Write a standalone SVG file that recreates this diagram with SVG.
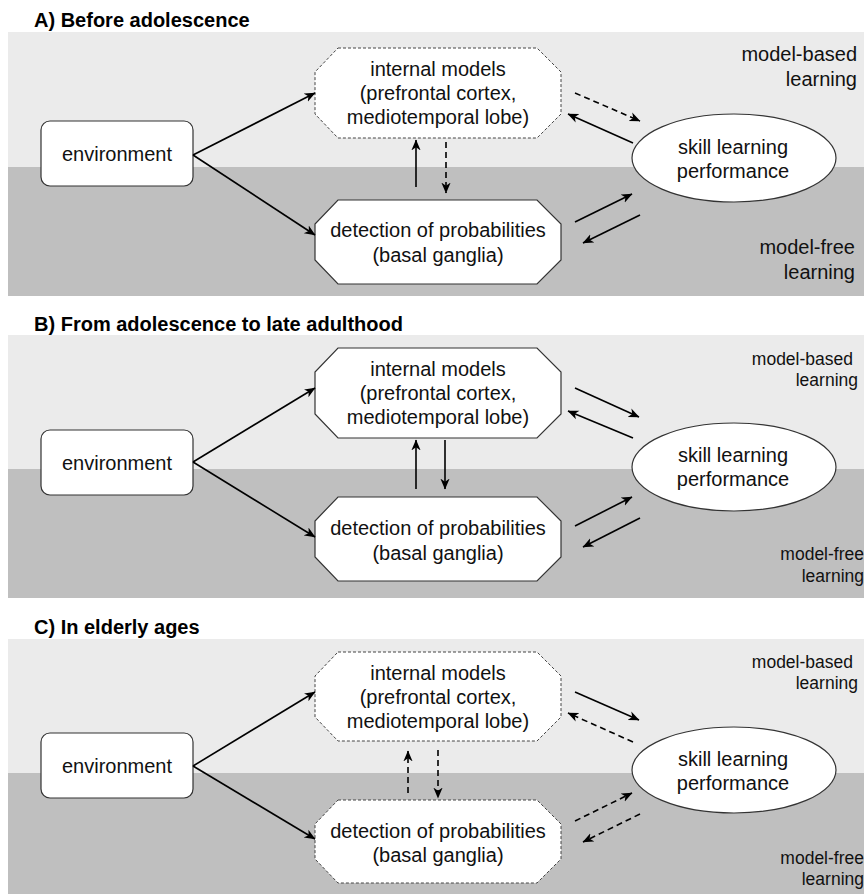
<svg xmlns="http://www.w3.org/2000/svg" width="866" height="894" viewBox="0 0 866 894">
<defs>
<marker id="ah" viewBox="0 0 10 10" refX="9.5" refY="5" markerWidth="11" markerHeight="11" markerUnits="userSpaceOnUse" orient="auto">
<path d="M0,0.8 L10,5 L0,9.2 L2.8,5 z" fill="#000"/>
</marker>
<style>
.light{fill:#ebebeb}
.dark{fill:#bfbfbf}
.title{font-family:"Liberation Sans",Arial,sans-serif;font-size:20px;font-weight:bold;fill:#000}
.t{font-family:"Liberation Sans",Arial,sans-serif;font-size:20px;fill:#111;text-anchor:middle}
.lblA{font-family:"Liberation Sans",Arial,sans-serif;font-size:20px;fill:#111;text-anchor:end}
.lbl{font-family:"Liberation Sans",Arial,sans-serif;font-size:17.5px;fill:#111;text-anchor:end}
.box{fill:#fff;stroke:#333;stroke-width:1.2}
.dbox{fill:#fff;stroke:#444;stroke-width:1;stroke-dasharray:3 2}
.c{stroke:#000;stroke-width:1.6;fill:none;marker-end:url(#ah)}
.cd{stroke:#000;stroke-width:1.6;fill:none;stroke-dasharray:6 4;marker-end:url(#ah)}
</style>
</defs>

<!-- Panel A -->
<g id="panelA">
<text class="title" x="34" y="27">A) Before adolescence</text>
<rect class="light" x="8" y="32" width="856" height="135"/>
<rect class="dark" x="8" y="167" width="856" height="129"/>
<text class="lblA" x="857" y="61">model-based</text>
<text class="lblA" x="857" y="86">learning</text>
<text class="lblA" x="855" y="254">model-free</text>
<text class="lblA" x="855" y="279">learning</text>
</g>
<g id="A-environment">
<rect class="box" x="41" y="121" width="152" height="65" rx="9"/>
<text class="t" x="117" y="161">environment</text>
</g>
<g id="A-internal-models">
<polygon class="dbox" points="338,48 537,48 561,72 561,114 537,138 338,138 315,114 315,72"/>
<text class="t" x="438" y="76">internal models</text>
<text class="t" x="438" y="100">(prefrontal cortex,</text>
<text class="t" x="438" y="124">mediotemporal lobe)</text>
</g>
<g id="A-detection">
<polygon class="box" points="338,200 537,200 561,224 561,260 537,284 338,284 315,260 315,224"/>
<text class="t" x="438" y="237">detection of probabilities</text>
<text class="t" x="438" y="262">(basal ganglia)</text>
</g>
<g id="A-skill">
<ellipse class="box" cx="734" cy="158" rx="102" ry="44"/>
<text class="t" x="733" y="154">skill learning</text>
<text class="t" x="733" y="178">performance</text>
</g>

<!-- Panel B -->
<g id="panelB">
<text class="title" x="34" y="331">B) From adolescence to late adulthood</text>
<rect class="light" x="8" y="335" width="856" height="134"/>
<rect class="dark" x="8" y="469" width="856" height="129"/>
<text class="lbl" x="853" y="365">model-based</text>
<text class="lbl" x="858" y="386">learning</text>
<text class="lbl" x="864" y="560">model-free</text>
<text class="lbl" x="864" y="582">learning</text>
</g>
<g id="B-environment">
<rect class="box" x="41" y="430" width="152" height="65" rx="9"/>
<text class="t" x="117" y="470">environment</text>
</g>
<g id="B-internal-models">
<polygon class="box" points="338,348 537,348 561,372 561,414 537,438 338,438 315,414 315,372"/>
<text class="t" x="438" y="376">internal models</text>
<text class="t" x="438" y="400">(prefrontal cortex,</text>
<text class="t" x="438" y="424">mediotemporal lobe)</text>
</g>
<g id="B-detection">
<polygon class="box" points="338,497 537,497 561,521 561,557 537,581 338,581 315,557 315,521"/>
<text class="t" x="438" y="535">detection of probabilities</text>
<text class="t" x="438" y="560">(basal ganglia)</text>
</g>
<g id="B-skill">
<ellipse class="box" cx="734" cy="467" rx="102" ry="44"/>
<text class="t" x="733" y="462">skill learning</text>
<text class="t" x="733" y="486">performance</text>
</g>

<!-- Panel C -->
<g id="panelC">
<text class="title" x="34" y="634">C) In elderly ages</text>
<rect class="light" x="8" y="639" width="856" height="134"/>
<rect class="dark" x="8" y="773" width="856" height="121"/>
<text class="lbl" x="853" y="668">model-based</text>
<text class="lbl" x="858" y="689">learning</text>
<text class="lbl" x="864" y="864">model-free</text>
<text class="lbl" x="864" y="885">learning</text>
</g>
<g id="C-environment">
<rect class="box" x="41" y="733" width="152" height="65" rx="9"/>
<text class="t" x="117" y="773">environment</text>
</g>
<g id="C-internal-models">
<polygon class="dbox" points="338,652 537,652 561,676 561,717 537,741 338,741 315,717 315,676"/>
<text class="t" x="438" y="680">internal models</text>
<text class="t" x="438" y="704">(prefrontal cortex,</text>
<text class="t" x="438" y="728">mediotemporal lobe)</text>
</g>
<g id="C-detection">
<polygon class="dbox" points="338,800 537,800 561,824 561,859 537,883 338,883 315,859 315,824"/>
<text class="t" x="438" y="838">detection of probabilities</text>
<text class="t" x="438" y="862">(basal ganglia)</text>
</g>
<g id="C-skill">
<ellipse class="box" cx="734" cy="770" rx="102" ry="43"/>
<text class="t" x="733" y="766">skill learning</text>
<text class="t" x="733" y="790">performance</text>
</g>

<g id="connectors">
<!-- A -->
<line class="c" x1="193" y1="155" x2="315" y2="93"/>
<line class="c" x1="193" y1="155" x2="315" y2="235"/>
<line class="c" x1="416" y1="187" x2="416" y2="140"/>
<line class="cd" x1="446" y1="142" x2="446" y2="193"/>
<line class="cd" x1="575" y1="93" x2="640" y2="121"/>
<line class="c" x1="633" y1="143" x2="568" y2="114"/>
<line class="c" x1="575" y1="222" x2="632" y2="194"/>
<line class="c" x1="640" y1="215" x2="583" y2="243"/>
<!-- B -->
<line class="c" x1="193" y1="462" x2="315" y2="388"/>
<line class="c" x1="193" y1="462" x2="315" y2="537"/>
<line class="c" x1="416" y1="489" x2="416" y2="440"/>
<line class="c" x1="445" y1="440" x2="445" y2="489"/>
<line class="c" x1="575" y1="388" x2="639" y2="417"/>
<line class="c" x1="633" y1="438" x2="568" y2="411"/>
<line class="c" x1="575" y1="526" x2="632" y2="497"/>
<line class="c" x1="640" y1="518" x2="583" y2="547"/>
<!-- C -->
<line class="c" x1="193" y1="766" x2="315" y2="692"/>
<line class="c" x1="193" y1="766" x2="315" y2="839"/>
<line class="cd" x1="408" y1="793" x2="408" y2="751"/>
<line class="cd" x1="438" y1="750" x2="438" y2="798"/>
<line class="c" x1="575" y1="692" x2="639" y2="720"/>
<line class="cd" x1="633" y1="742" x2="568" y2="713"/>
<line class="cd" x1="575" y1="821" x2="632" y2="793"/>
<line class="cd" x1="640" y1="814" x2="583" y2="842"/>
</g>
</svg>
